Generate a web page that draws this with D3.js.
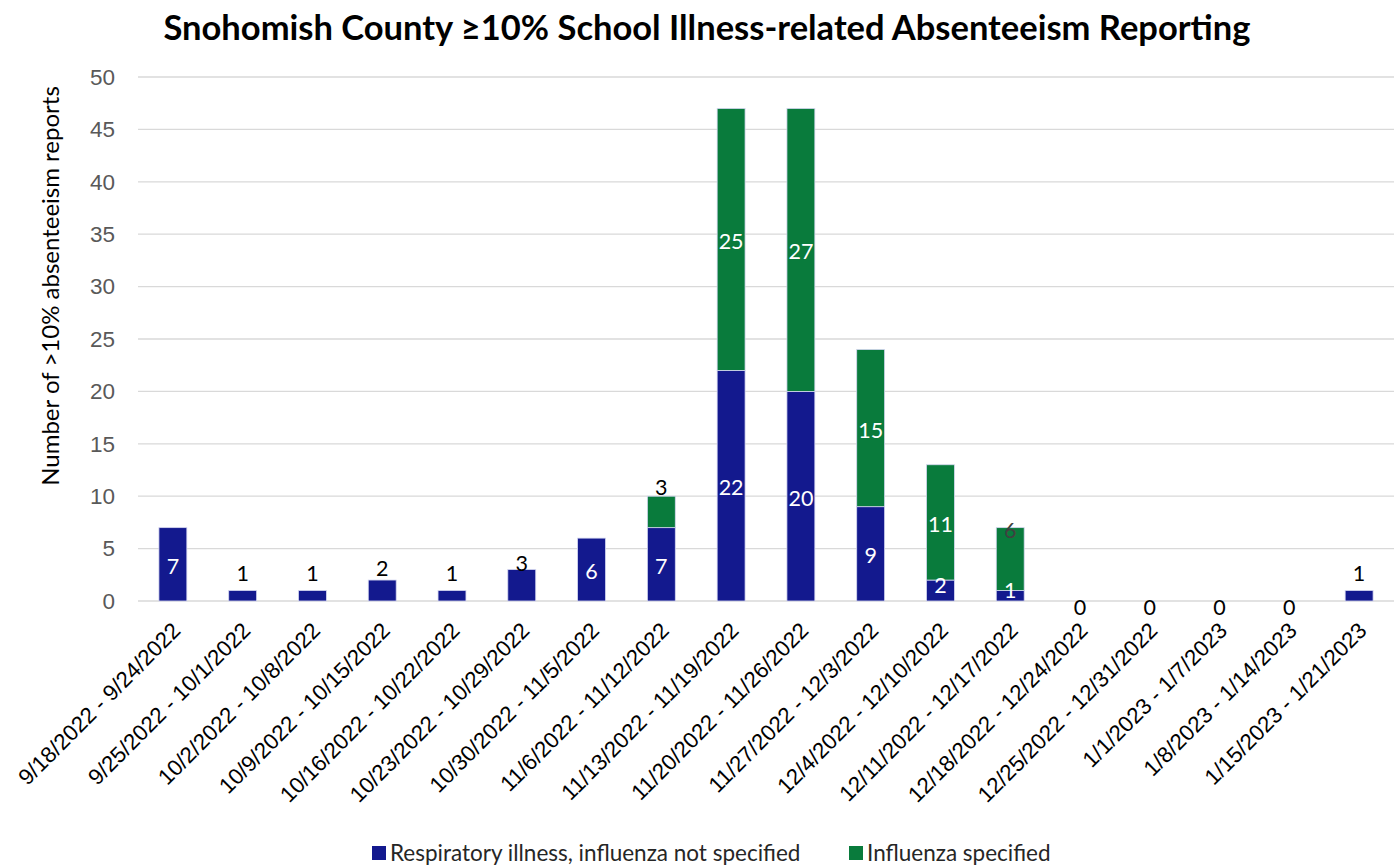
<!DOCTYPE html>
<html>
<head>
<meta charset="utf-8">
<script src="https://cdn.jsdelivr.net/npm/d3@7"></script>
<style>
  body { margin: 0; background: #fff; }
  svg { font-family: Lato, "Open Sans", sans-serif; }
</style>
</head>
<body>
<svg id="chart" width="1398" height="867"></svg>
<script>
var weeks = ["9/18/2022 - 9/24/2022", "9/25/2022 - 10/1/2022", "10/2/2022 - 10/8/2022",
  "10/9/2022 - 10/15/2022", "10/16/2022 - 10/22/2022", "10/23/2022 - 10/29/2022",
  "10/30/2022 - 11/5/2022", "11/6/2022 - 11/12/2022", "11/13/2022 - 11/19/2022",
  "11/20/2022 - 11/26/2022", "11/27/2022 - 12/3/2022", "12/4/2022 - 12/10/2022",
  "12/11/2022 - 12/17/2022", "12/18/2022 - 12/24/2022", "12/25/2022 - 12/31/2022",
  "1/1/2023 - 1/7/2023", "1/8/2023 - 1/14/2023", "1/15/2023 - 1/21/2023"];
var respiratory = [7, 1, 1, 2, 1, 3, 6, 7, 22, 20, 9, 2, 1, 0, 0, 0, 0, 1];
var influenza = [0, 0, 0, 0, 0, 0, 0, 3, 25, 27, 15, 11, 6, 0, 0, 0, 0, 0];
var yTicks = [0, 5, 10, 15, 20, 25, 30, 35, 40, 45, 50];
var seriesNames = ["Respiratory illness, influenza not specified", "Influenza specified"];
var colors = ["#13198e", "#097b3c"];

var svg = d3.select("#chart");
var margin = { top: 77, right: 4, bottom: 266, left: 138 };
var width = +svg.attr("width") - margin.left - margin.right;
var height = +svg.attr("height") - margin.top - margin.bottom;

var g = svg.append("g")
  .attr("transform", "translate(" + margin.left + "," + margin.top + ")");

var x = d3.scaleBand().domain(weeks).range([0, width]).paddingInner(0.6).paddingOuter(0.3);
var y = d3.scaleLinear().domain([0, 50]).range([height, 0]);

// gridlines
g.selectAll(".grid")
  .data(yTicks)
  .enter()
  .append("line")
  .attr("x1", 0)
  .attr("x2", width)
  .attr("y1", function(d) { return y(d); })
  .attr("y2", function(d) { return y(d); })
  .attr("stroke", "#d9d9d9")
  .attr("stroke-width", 1.3);

// y axis
var yAxis = g.append("g")
  .call(d3.axisLeft(y).tickValues(yTicks).tickSize(0).tickPadding(23));
yAxis.select(".domain").remove();
yAxis.selectAll("text")
  .attr("fill", "#595959")
  .style("font-size", "22.5px");

// x axis
var xAxis = g.append("g")
  .attr("transform", "translate(0," + height + ")")
  .call(d3.axisBottom(x).tickSize(0));
xAxis.select(".domain").remove();
xAxis.selectAll("text")
  .attr("fill", "#000")
  .style("font-size", "22.3px")
  .style("text-anchor", "end")
  .attr("y", 0)
  .attr("dy", 0)
  .attr("transform", "translate(9,31) rotate(-45)");

// stacked data
var rows = weeks.map(function(w, i) {
  return { week: w, resp: respiratory[i], flu: influenza[i] };
});
var stack = d3.stack().keys(["resp", "flu"])(rows);

var layers = g.selectAll(".layer")
  .data(stack)
  .enter()
  .append("g")
  .attr("fill", function(d, i) { return colors[i]; });

layers.selectAll("rect")
  .data(function(d) { return d; })
  .enter()
  .append("rect")
  .filter(function(d) { return d[1] - d[0] > 0; })
  .attr("x", function(d) { return x(d.data.week); })
  .attr("width", x.bandwidth())
  .attr("y", function(d) { return y(d[1]); })
  .attr("height", function(d) { return y(d[0]) - y(d[1]); })
  .attr("stroke", "#d4d6f0")
  .attr("stroke-width", 0.8);

// data labels
var labels = [];
rows.forEach(function(r, i) {
  var cx = x(r.week) + x.bandwidth() / 2;
  if (r.resp === 0 && r.flu === 0) {
    labels.push({ x: cx, y: y(0) + 6, text: "0", fill: "#000" });
    return;
  }
  var respMid = y(r.resp / 2);
  if (r.flu === 0 && r.resp <= 3) {
    labels.push({ x: cx, y: respMid - 22, text: r.resp, fill: "#000" });
  } else if (r.resp <= 2) {
    labels.push({ x: cx, y: respMid - 5, text: r.resp, fill: "#fff" });
  } else {
    labels.push({ x: cx, y: respMid + 2, text: r.resp, fill: "#fff" });
  }
  if (r.flu > 0) {
    var fluMid = y(r.resp + r.flu / 2);
    if (r.flu <= 3) {
      labels.push({ x: cx, y: fluMid - 24, text: r.flu, fill: "#000" });
    } else if (r.flu <= 6) {
      labels.push({ x: cx, y: y(r.resp + r.flu) + 3, text: r.flu, fill: "#404040" });
    } else {
      labels.push({ x: cx, y: fluMid + 2, text: r.flu, fill: "#fff" });
    }
  }
});

g.selectAll(".label")
  .data(labels)
  .enter()
  .append("text")
  .attr("x", function(d) { return d.x; })
  .attr("y", function(d) { return d.y; })
  .attr("dy", "0.35em")
  .attr("text-anchor", "middle")
  .attr("fill", function(d) { return d.fill; })
  .style("font-size", "21.5px")
  .text(function(d) { return d.text; });

// y axis title
svg.append("text")
  .attr("transform", "translate(59,286) rotate(-90)")
  .attr("text-anchor", "middle")
  .attr("fill", "#000")
  .style("font-size", "24px")
  .text("Number of >10% absenteeism reports");

// title
svg.append("text")
  .attr("x", 707)
  .attr("y", 40)
  .attr("text-anchor", "middle")
  .attr("fill", "#000")
  .style("font-size", "34.5px")
  .style("font-weight", "bold")
  .text("Snohomish County \u226510% School Illness-related Absenteeism Reporting");

// legend
var legendPos = [372, 849];
var legend = svg.selectAll(".legend")
  .data(seriesNames)
  .enter()
  .append("g")
  .attr("transform", function(d, i) { return "translate(" + legendPos[i] + ",846)"; });
legend.append("rect")
  .attr("width", 14)
  .attr("height", 14)
  .attr("fill", function(d, i) { return colors[i]; });
legend.append("text")
  .attr("x", 18)
  .attr("y", 7)
  .attr("dy", "0.35em")
  .attr("fill", "#262626")
  .style("font-size", "22.5px")
  .text(function(d) { return d; });
</script>
</body>
</html>
